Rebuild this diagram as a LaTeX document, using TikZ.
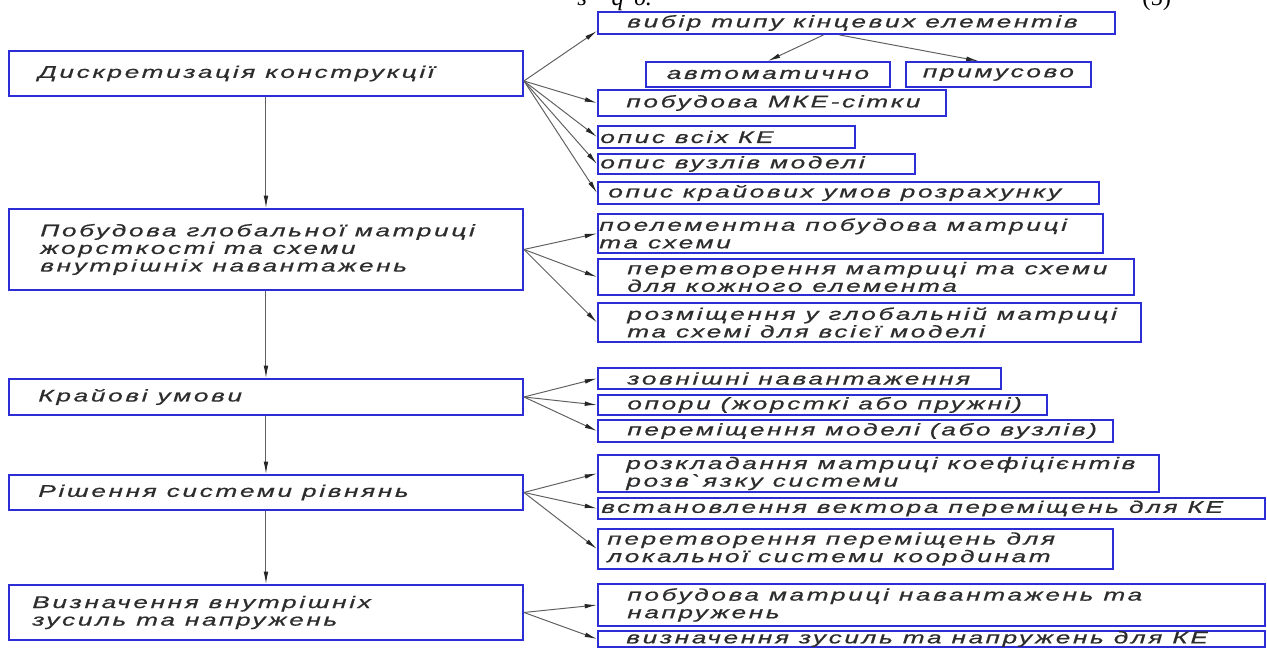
\documentclass[tikz,border=0pt]{standalone}
\usepackage{fontspec}
\usepackage{xcolor}
\usepackage{tikz}
\usetikzlibrary{arrows.meta,positioning}
\newfontfamily\gostfont[FakeStretch=1.55,LetterSpace=16,FakeBold=0.7]{Liberation Sans}
\newfontfamily\pagefont{Liberation Serif}
\definecolor{frameblue}{RGB}{45,45,215}
\definecolor{inkgray}{RGB}{45,45,45}
\definecolor{wiregray}{RGB}{95,95,95}
\tikzset{
  box/.style={draw=frameblue, line width=1.1pt, fill=white, anchor=north west, inner sep=0pt},
  ink/.style={text=inkgray, font=\gostfont\itshape\fontsize{9.6}{10}\selectfont},
  txt/.style={ink, anchor=west, align=left, inner sep=0pt},
  wire/.style={color=wiregray, line width=0.55pt, ->}
}

\begin{document}
\begin{tikzpicture}[>={Latex[length=7pt,width=2.6pt,color=black!85]}]
\path[use as bounding box, fill=white] (0,0) rectangle (25.34,-12.96);
% line of the page above the scheme
\node[anchor=base west, inner sep=0pt, font=\pagefont\itshape\fontsize{14}{16}\selectfont] (eqn) at (11.54,-0.10) {s\,=\,q\textsuperscript{T}δ.};
\node[anchor=base west, inner sep=0pt, font=\pagefont\fontsize{14}{16}\selectfont] (eqno) at (22.84,-0.12) {(5)};
% main stages
\node[box, minimum width=10.28cm, minimum height=0.90cm, label={[txt, xshift=0.60cm]west:Дискретизація конструкції}] (disc) at (0.16,-1.00) {};
\node[box, minimum width=10.28cm, minimum height=1.62cm, label={[txt, xshift=0.64cm]west:Побудова глобальної матриці\\жорсткості та схеми\\внутрішніх навантажень}] (glob) at (0.16,-4.16) {};
\node[box, minimum width=10.28cm, minimum height=0.72cm, label={[txt, xshift=0.60cm]west:Крайові умови}] (bound) at (0.16,-7.56) {};
\node[box, minimum width=10.28cm, minimum height=0.70cm, label={[txt, xshift=0.60cm]west:Рішення системи рівнянь}] (solve) at (0.16,-9.48) {};
\node[box, minimum width=10.28cm, minimum height=1.10cm, label={[txt, xshift=0.48cm]west:Визначення внутрішніх\\зусиль та напружень}] (force) at (0.16,-11.68) {};
% sub-steps
\node[box, minimum width=10.34cm, minimum height=0.44cm, label={[txt, xshift=0.60cm]west:вибір типу кінцевих елементів}] (eltype) at (11.94,-0.22) {};
\node[box, ink, minimum width=4.88cm, minimum height=0.50cm] (auto) at (12.90,-1.22) {автоматично};
\node[box, ink, minimum width=3.70cm, minimum height=0.50cm] (manual) at (18.10,-1.22) {примусово};
\node[box, minimum width=6.96cm, minimum height=0.52cm, label={[txt, xshift=0.58cm]west:побудова МКЕ-сітки}] (mesh) at (11.94,-1.78) {};
\node[box, minimum width=5.14cm, minimum height=0.44cm, label={[txt, xshift=0.06cm]west:опис всіх КЕ}] (elems) at (11.94,-2.50) {};
\node[box, minimum width=6.34cm, minimum height=0.40cm, label={[txt, xshift=0.06cm]west:опис вузлів моделі}] (knots) at (11.94,-3.06) {};
\node[box, minimum width=10.02cm, minimum height=0.44cm, label={[txt, xshift=0.22cm]west:опис крайових умов розрахунку}] (supp) at (11.94,-3.62) {};
\node[box, minimum width=10.10cm, minimum height=0.78cm, label={[txt, xshift=0.04cm]west:поелементна побудова матриці\\та схеми}] (assem) at (11.94,-4.26) {};
\node[box, minimum width=10.72cm, minimum height=0.72cm, label={[txt, xshift=0.60cm]west:перетворення матриці та схеми\\для кожного елемента}] (trans) at (11.94,-5.16) {};
\node[box, minimum width=10.86cm, minimum height=0.78cm, label={[txt, xshift=0.60cm]west:розміщення у глобальній матриці\\та схемі для всієї моделі}] (place) at (11.94,-6.04) {};
\node[box, minimum width=8.06cm, minimum height=0.42cm, label={[txt, xshift=0.60cm]west:зовнішні навантаження}] (loads) at (11.94,-7.34) {};
\node[box, minimum width=8.98cm, minimum height=0.40cm, label={[txt, xshift=0.60cm]west:опори (жорсткі або пружні)}] (props) at (11.94,-7.88) {};
\node[box, minimum width=10.30cm, minimum height=0.44cm, label={[txt, xshift=0.60cm]west:переміщення моделі (або вузлів)}] (disp) at (11.94,-8.38) {};
\node[box, minimum width=11.22cm, minimum height=0.74cm, label={[txt, xshift=0.58cm]west:розкладання матриці коефіцієнтів\\розв`язку системи}] (decomp) at (11.94,-9.08) {};
\node[box, minimum width=13.34cm, minimum height=0.42cm, label={[txt, xshift=0.08cm]west:встановлення вектора переміщень для КЕ}] (vect) at (11.94,-9.94) {};
\node[box, minimum width=10.30cm, minimum height=0.80cm, label={[txt, xshift=0.20cm]west:перетворення переміщень для\\локальної системи координат}] (local) at (11.94,-10.56) {};
\node[box, minimum width=13.34cm, minimum height=0.84cm, label={[txt, xshift=0.60cm]west:побудова матриці навантажень та\\напружень}] (stress) at (11.94,-11.66) {};
\node[box, minimum width=13.34cm, minimum height=0.32cm, label={[txt, xshift=0.58cm]west:визначення зусиль та напружень для КЕ}] (result) at (11.94,-12.60) {};
% connectors
\path[wire] (disc) edge (glob) (glob) edge (bound) (bound) edge (solve) (solve) edge (force);
\coordinate (discout) at ([yshift=-0.15cm]disc.east);
\path[wire] (discout) edge ([yshift=-0.16cm]eltype.west) edge (mesh.west) edge (elems.west) edge (knots.west) edge (supp.west);
\path[wire] ([xshift=-0.66cm]eltype.south) edge (auto.north) ([xshift=-0.34cm]eltype.south) edge ([xshift=-0.40cm]manual.north);
\path[wire] (glob.east) edge (assem.west) edge (trans.west) edge (place.west);
\path[wire] (bound.east) edge (loads.west) edge (props.west) edge (disp.west);
\path[wire] (solve.east) edge (decomp.west) edge (vect.west) edge (local.west);
\path[wire] (force.east) edge (stress.west) edge (result.west);
\end{tikzpicture}
\end{document}
